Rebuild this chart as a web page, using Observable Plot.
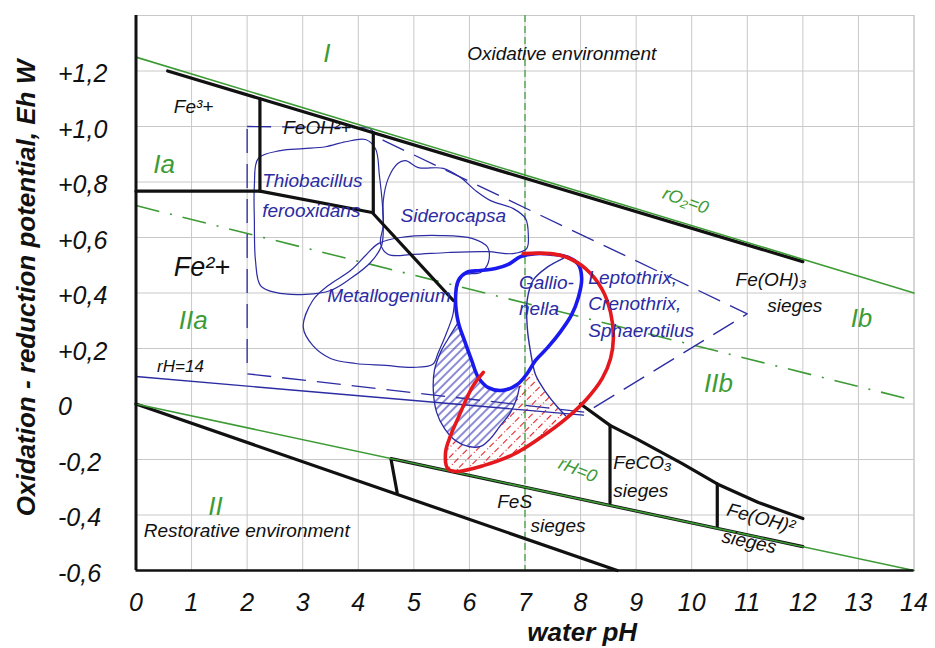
<!DOCTYPE html>
<html><head><meta charset="utf-8">
<script src="https://cdn.jsdelivr.net/npm/d3@7"></script>
<script src="https://cdn.jsdelivr.net/npm/@observablehq/plot@0.6"></script>
<style>body{margin:0;background:#fff}svg{display:block}</style>
</head><body><div id="chart"></div>
<script>
// ---------- axes / ticks ----------
const xTicks = [0,1,2,3,4,5,6,7,8,9,10,11,12,13,14];
const yGrid = [1.4,1.2,1.0,0.8,0.6,0.4,0.2,0,-0.2,-0.4,-0.6];
const yTicks = [1.2,1.0,0.8,0.6,0.4,0.2,0,-0.2,-0.4,-0.6];
const yTickLabels = ["+1,2","+1,0","+0,8","+0,6","+0,4","+0,2","0","-0,2","-0,4","-0,6"];
const xTitle = [{x:8.03, t:"water pH"}];
const yTitle = [{y:0.418, t:"Oxidation - reduction potential, Eh W"}];

// ---------- reference lines (pH, Eh) ----------
const rO2line   = [[0,1.25],[14,0.40]];
const rH0line   = [[0,0.0],[14,-0.6]];
const neutral   = [[0,0.715],[14,0.013]];
const rH14line  = [[0,0.099],[8.05,-0.04]];
const neutralPH = [7];

// ---------- black Fe boundaries ----------
const feUpper   = [[0.57,1.2],[12,0.513]];
const fe3fe2    = [[0,0.767],[2.23,0.767],[4.25,0.69],[5.71,0.373]];
const feV1      = [[2.23,0.767],[2.23,1.10]];
const feV2      = [[4.27,0.69],[4.27,0.977]];
const feco3Top  = [[8.0,0.0],[8.53,-0.077],[9.0,-0.125],[9.83,-0.215],[10.46,-0.288],[11.2,-0.355],[12,-0.413]];
const fesTop    = [[4.59,-0.197],[12,-0.514]];
const fesBottom = [[0,0],[8.66,-0.6]];
const vFeS      = [[4.59,-0.2],[4.70,-0.32]];
const vFeCO3    = [[8.53,-0.077],[8.53,-0.357]];
const vFeOH2    = [[10.46,-0.288],[10.46,-0.44]];

// ---------- bacteria areas ----------
const dashedArea = [[2.0,1.0],[4.2,0.995],[4.45,0.95],[11.0,0.325],[8.1,-0.03],[2.0,0.109]];
const thiobacillus = [[2.20,0.885],[2.60,0.913],[3.01,0.920],[3.41,0.927],[3.77,0.945],[4.13,0.953],[4.31,0.920],[4.38,0.823],[4.44,0.697],[4.42,0.571],[4.22,0.510],[3.86,0.452],[3.50,0.409],[3.05,0.395],[2.51,0.402],[2.24,0.427],[2.15,0.517],[2.13,0.661],[2.13,0.787]];
const siderocapsa = [[4.71,0.867],[4.85,0.877],[5.08,0.852],[5.53,0.849],[5.84,0.816],[6.11,0.769],[6.38,0.733],[6.79,0.704],[7.01,0.668],[7.06,0.607],[7.03,0.560],[6.78,0.542],[6.33,0.549],[5.61,0.546],[4.99,0.539],[4.54,0.539],[4.40,0.578],[4.45,0.643],[4.45,0.733],[4.54,0.813]];
const metallogenium = [[3.01,0.276],[3.18,0.211],[3.50,0.164],[3.95,0.146],[4.49,0.139],[4.98,0.132],[5.34,0.143],[5.44,0.186],[5.57,0.247],[5.70,0.319],[5.75,0.391],[5.88,0.463],[6.20,0.474],[6.34,0.510],[6.33,0.564],[6.06,0.596],[5.48,0.607],[4.76,0.600],[4.36,0.578],[4.13,0.535],[3.86,0.481],[3.46,0.427],[3.18,0.373]];
const gallionella = [[5.75,0.380],[5.80,0.445],[5.95,0.474],[6.20,0.481],[6.47,0.488],[6.70,0.503],[6.92,0.531],[7.19,0.542],[7.51,0.539],[7.78,0.528],[7.96,0.503],[8.02,0.452],[7.96,0.384],[7.84,0.322],[7.64,0.261],[7.41,0.204],[7.19,0.157],[7.04,0.110],[6.86,0.070],[6.60,0.049],[6.34,0.059],[6.16,0.096],[6.04,0.157],[5.91,0.229],[5.80,0.294]];
const gallionellaThin = [[7.69,0.525],[7.40,0.493],[7.15,0.447],[7.04,0.375],[7.04,0.278],[7.10,0.188],[7.19,0.105],[7.37,0.044],[7.58,-0.010],[7.73,-0.042]];
const blueHatched = [[5.80,0.294],[5.62,0.236],[5.48,0.186],[5.37,0.121],[5.35,0.049],[5.41,-0.030],[5.55,-0.088],[5.75,-0.132],[5.98,-0.153],[6.20,-0.153],[6.38,-0.124],[6.56,-0.077],[6.74,-0.030],[6.85,0.020],[6.90,0.063],[6.60,0.049],[6.34,0.059],[6.16,0.096],[6.04,0.157],[5.91,0.229]];
const blueHatchedEdge = blueHatched.slice(0,15);
const leptothrix = [[6.25,0.114],[6.07,0.067],[5.95,0.020],[5.80,-0.049],[5.66,-0.114],[5.57,-0.175],[5.61,-0.233],[5.75,-0.243],[6.25,-0.222],[6.79,-0.182],[7.28,-0.121],[7.76,-0.049],[8.12,0.020],[8.39,0.092],[8.54,0.164],[8.59,0.236],[8.54,0.330],[8.38,0.416],[8.09,0.488],[7.76,0.528],[7.46,0.542],[6.97,0.542]];
const redHatched = [[5.66,-0.117],[5.60,-0.175],[5.60,-0.225],[5.75,-0.243],[6.25,-0.222],[6.79,-0.182],[7.28,-0.121],[7.73,-0.049],[7.58,-0.013],[7.37,0.041],[7.19,0.103],[7.04,0.114],[6.90,0.063],[6.85,0.020],[6.74,-0.030],[6.56,-0.077],[6.38,-0.124],[6.20,-0.153],[5.98,-0.153],[5.75,-0.135]];

// ---------- labels ----------
const blackLabels = [
  {t:"Oxidative environment", x:5.96, y:1.238},
  {t:"Fe³+", x:0.68, y:1.047},
  {t:"FeOH²+", x:2.65, y:0.973},
  {t:"Fe(OH)₃", x:10.79, y:0.427},
  {t:"sieges", x:11.36, y:0.331},
  {t:"FeCO₃", x:8.59, y:-0.234},
  {t:"sieges", x:8.59, y:-0.336},
  {t:"FeS", x:6.50, y:-0.374},
  {t:"sieges", x:7.10, y:-0.462},
  {t:"Restorative environment", x:0.14, y:-0.480}
];
const smallBlackLabels = [{t:"rH=14", x:0.38, y:0.115}];
const bigBlackLabels = [{t:"Fe²+", x:0.68, y:0.463}];
const rotatedBlackLabels = [
  {t:"Fe(OH)²", x:10.64, y:-0.402, r:15},
  {t:"sieges", x:10.55, y:-0.498, r:12}
];
const blueLabels = [
  {t:"Thiobacillus", x:2.27, y:0.781},
  {t:"ferooxidans", x:2.27, y:0.673},
  {t:"Siderocapsa", x:4.76, y:0.655},
  {t:"Metallogenium", x:3.44, y:0.367},
  {t:"Gallio-", x:6.89, y:0.415},
  {t:"nella", x:6.89, y:0.319},
  {t:"Leptothrix,", x:8.14, y:0.434},
  {t:"Crenothrix,", x:8.14, y:0.337},
  {t:"Sphaerotilus", x:8.14, y:0.240}
];
const zoneLabels = [
  {t:"I", x:3.37, y:1.231},
  {t:"Ia", x:0.31, y:0.834},
  {t:"IIa", x:0.77, y:0.271},
  {t:"II", x:1.30, y:-0.40},
  {t:"Ib", x:12.86, y:0.277},
  {t:"IIb", x:10.22, y:0.043}
];
const lineLabels = [
  {t:"rO₂=0", x:9.49, y:0.741, r:20},
  {t:"rH=0", x:7.62, y:-0.232, r:22}
];

// ---------- styles ----------
const GREEN = "#3d9b35", BLACK = "#111", BLUE = "#2b2ba3", BLUE2 = "#1a1aee", RED = "#e5191d";
const FONT = "Liberation Sans, Arial, DejaVu Sans, sans-serif";
const px = d => d[0], py = d => d[1];
const ln = (data, o) => Plot.line(data, {x: px, y: py, ...o});
const lbl = (data, fs, o = {}) => Plot.text(data, {x: "x", y: "y", text: "t", fontSize: fs, fontStyle: "italic",
  textAnchor: "start", lineAnchor: "middle", dy: -0.32 * fs, ...o});

const svg = Plot.plot({
  width: 935, height: 648,
  marginLeft: 135.5, marginRight: 21.5, marginTop: 15, marginBottom: 78,
  x: {domain: [0, 14], axis: null},
  y: {domain: [-0.6, 1.4], axis: null},
  style: {fontFamily: FONT, background: "#fff", color: "#111", overflow: "visible"},
  marks: [
    Plot.ruleX(xTicks, {stroke: "#c8c8c8", strokeWidth: 1}),
    Plot.ruleY(yGrid, {stroke: "#c8c8c8", strokeWidth: 1}),
    Plot.frame({stroke: "#c8c8c8"}),
    // hatched zones
    ln(redHatched, {curve: "linear-closed", stroke: "none", fill: "url(#hatchRed)"}),
    ln(blueHatched, {curve: "catmull-rom-closed", stroke: "none", fill: "url(#hatchBlue)"}),
    // green reference lines
    Plot.ruleX(neutralPH, {stroke: GREEN, strokeWidth: 1.2, strokeDasharray: "7,4"}),
    ln(neutral, {stroke: GREEN, strokeWidth: 1.6, strokeDasharray: "24,11,2,11", strokeLinecap: "butt"}),
    // blue dashed envelope & thin blobs
    ln(dashedArea, {curve: "linear-closed", stroke: BLUE, strokeWidth: 1.3, strokeDasharray: "24,11", strokeLinecap: "butt"}),
    ln(thiobacillus, {curve: "catmull-rom-closed", stroke: BLUE, strokeWidth: 1.2}),
    ln(siderocapsa, {curve: "catmull-rom-closed", stroke: BLUE, strokeWidth: 1.2}),
    ln(metallogenium, {curve: "catmull-rom-closed", stroke: BLUE, strokeWidth: 1.2}),
    ln(blueHatchedEdge, {curve: "catmull-rom", stroke: BLUE, strokeWidth: 1.3}),
    ln(gallionellaThin, {curve: "catmull-rom", stroke: BLUE, strokeWidth: 1.4}),
    ln(rH14line, {stroke: BLUE, strokeWidth: 1.4}),
    // black Fe boundaries
    ln(feUpper, {stroke: BLACK, strokeWidth: 3.2}),
    ln(fe3fe2, {stroke: BLACK, strokeWidth: 3.2}),
    ln(feV1, {stroke: BLACK, strokeWidth: 3.2}),
    ln(feV2, {stroke: BLACK, strokeWidth: 3.2}),
    ln(feco3Top, {stroke: BLACK, strokeWidth: 3.2}),
    ln(fesTop, {stroke: BLACK, strokeWidth: 3.2}),
    ln(fesBottom, {stroke: BLACK, strokeWidth: 3.2}),
    ln(vFeS, {stroke: BLACK, strokeWidth: 3.2}),
    ln(vFeCO3, {stroke: BLACK, strokeWidth: 3.2}),
    ln(vFeOH2, {stroke: BLACK, strokeWidth: 3.2}),
    ln(rO2line, {stroke: GREEN, strokeWidth: 1.6}),
    ln(rH0line, {stroke: GREEN, strokeWidth: 1.6}),
    // thick contours
    ln(gallionella, {curve: "catmull-rom-closed", stroke: BLUE2, strokeWidth: 3.6}),
    ln(leptothrix, {curve: "catmull-rom", stroke: RED, strokeWidth: 3.6}),
    // axes lines
    Plot.ruleX([0], {stroke: BLACK, strokeWidth: 3}),
    Plot.ruleY([-0.6], {stroke: BLACK, strokeWidth: 2.5}),
    // tick labels
    Plot.text(yTicks, {y: d => d, text: (d, i) => yTickLabels[i], frameAnchor: "left", dx: -78, dy: 3,
      textAnchor: "start", lineAnchor: "middle", fontSize: 25, fontStyle: "italic"}),
    Plot.text(xTicks, {x: d => d, text: d => String(d), frameAnchor: "bottom", dy: 23,
      textAnchor: "middle", lineAnchor: "top", fontSize: 25, fontStyle: "italic"}),
    Plot.text(xTitle, {x: "x", text: "t", frameAnchor: "bottom", dy: 62, textAnchor: "middle", lineAnchor: "middle",
      fontSize: 26, fontStyle: "italic", fontWeight: "bold"}),
    Plot.text(yTitle, {y: "y", text: "t", frameAnchor: "left", dx: -109.5, rotate: -90, textAnchor: "middle",
      lineAnchor: "middle", fontSize: 26, fontStyle: "italic", fontWeight: "bold"}),
    // annotations
    lbl(blackLabels, 19),
    lbl(smallBlackLabels, 17),
    lbl(bigBlackLabels, 27),
    lbl(rotatedBlackLabels, 19, {rotate: "r"}),
    lbl(blueLabels, 19, {fill: BLUE}),
    lbl(zoneLabels, 26, {fill: GREEN}),
    lbl(lineLabels, 18, {fill: GREEN, rotate: "r"})
  ]
});

// hatch patterns used by the hatched zones
const defs = d3.select(svg).insert("defs", ":first-child");
const pb = defs.append("pattern").attr("id", "hatchBlue").attr("patternUnits", "userSpaceOnUse")
  .attr("width", 6).attr("height", 6).attr("patternTransform", "rotate(45)");
pb.append("line").attr("x1", 3).attr("y1", -1).attr("x2", 3).attr("y2", 7).attr("stroke", "#2b2bb5").attr("stroke-width", 1.1);
const pr = defs.append("pattern").attr("id", "hatchRed").attr("patternUnits", "userSpaceOnUse")
  .attr("width", 7).attr("height", 12).attr("patternTransform", "rotate(45)");
pr.append("line").attr("x1", 3.5).attr("y1", 0).attr("x2", 3.5).attr("y2", 12).attr("stroke", RED)
  .attr("stroke-width", 1.1).attr("stroke-dasharray", "6,2,1,3");

document.getElementById("chart").append(svg);
</script>
</body></html>
